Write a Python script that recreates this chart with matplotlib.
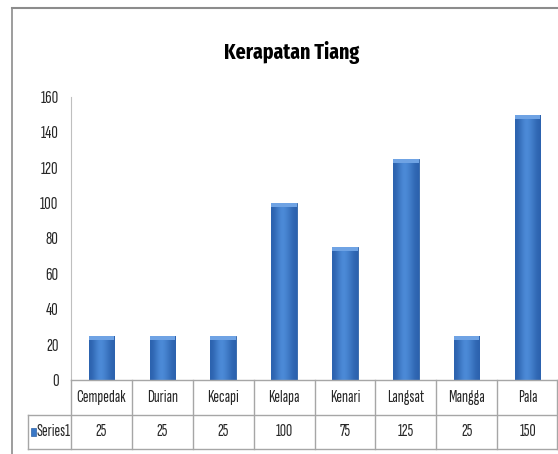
import matplotlib
matplotlib.use("Agg")
import matplotlib.pyplot as plt
import numpy as np
from matplotlib.lines import Line2D
from matplotlib.patches import Rectangle
from matplotlib.colors import LinearSegmentedColormap

categories = ["Cempedak", "Durian", "Kecapi", "Kelapa", "Kenari", "Langsat", "Mangga", "Pala"]
values = [25, 25, 25, 100, 75, 125, 25, 150]
series_name = "Series1"
title = "Kerapatan Tiang"
yticks = [0, 20, 40, 60, 80, 100, 120, 140, 160]

LAB = ["Sofia Sans Extra Condensed", "Fira Sans Extra Condensed", "DejaVu Sans"]
TIT = ["Fira Sans Extra Condensed", "Open Sans Condensed", "DejaVu Sans"]
plt.rcParams['font.family'] = LAB

W, H = 558, 454
fig = plt.figure(figsize=(W/100, H/100), dpi=100)
def fx(px): return px / W
def fy(py): return 1 - py / H

fig.add_artist(Line2D([fx(12), fx(12)], [fy(8), 0], color="#8c8c8c", lw=1.2))
fig.add_artist(Line2D([fx(12), 1], [fy(8), fy(8)], color="#8c8c8c", lw=1.5))

ax_l, ax_r, ax_top, ax_bot = 71, 558, 97, 380
ax = fig.add_axes([fx(ax_l), fy(ax_bot), fx(ax_r) - fx(ax_l), fy(ax_top) - fy(ax_bot)])
n = len(categories)
x = np.arange(n)
bars = ax.bar(x, values, width=0.42, color="#3A78C6", edgecolor="#2F62A6", linewidth=0.6, zorder=2)
grad = np.array([[0.0, 0.35, 0.7, 0.55, 0.25, 0.0]])
cmap = LinearSegmentedColormap.from_list("b", ["#2C62AE", "#4F8EDB"])
for b in bars:
    x0, y0 = b.get_x(), b.get_y()
    w, h = b.get_width(), b.get_height()
    im = ax.imshow(grad, cmap=cmap, aspect="auto", extent=[x0, x0 + w, y0, y0 + h], zorder=2.5, interpolation="bicubic")
    im.set_clip_path(b)
    ax.add_patch(Rectangle((x0, y0 + h - 2.2), w, 2.2, color="#6FA3E4", zorder=3, lw=0))

ax.set_xlim(-0.5, n - 0.5)
ax.set_ylim(0, 160)
ax.set_yticks(yticks)
ax.set_yticklabels([str(t) for t in yticks], fontsize=13, color="#262626")
ax.set_xticks([])
ax.tick_params(axis="y", length=0, pad=9)
for s in ["top", "right", "bottom"]:
    ax.spines[s].set_visible(False)
ax.spines["left"].set_color("#bfbfbf")
ax.set_facecolor("none")

fig.text(fx(292), fy(52), title, ha="center", va="center", fontsize=15.5, fontweight="bold", color="#000000", family=TIT)

lc = "#a6a6a6"
col_w = (ax_r - ax_l) / n
r0, r1, r2 = 380, 415, 449
tbl_l = 28
fig.add_artist(Line2D([fx(ax_l), fx(ax_r)], [fy(r0), fy(r0)], color=lc, lw=1))
fig.add_artist(Line2D([fx(tbl_l), fx(ax_r)], [fy(r1), fy(r1)], color=lc, lw=1))
fig.add_artist(Line2D([fx(tbl_l), fx(ax_r)], [fy(r2), fy(r2)], color=lc, lw=1))
fig.add_artist(Line2D([fx(tbl_l), fx(tbl_l)], [fy(r1), fy(r2)], color=lc, lw=1))
for k in range(n + 1):
    xx = ax_l + k * col_w
    if k == n:
        xx = ax_r - 1
    fig.add_artist(Line2D([fx(xx), fx(xx)], [fy(r0), fy(r2)], color=lc, lw=1))
for k, (c, v) in enumerate(zip(categories, values)):
    cx = ax_l + (k + 0.5) * col_w
    fig.text(fx(cx), fy((r0 + r1) / 2), c, ha="center", va="center", fontsize=12.5, color="#262626")
    fig.text(fx(cx), fy((r1 + r2) / 2), str(v), ha="center", va="center", fontsize=12.5, color="#262626")
fig.add_artist(Rectangle((fx(31), fy(436)), fx(5), fy(428) - fy(436), facecolor="#3A78C6", edgecolor="#2F62A6", lw=0.5, transform=fig.transFigure))
fig.text(fx(37), fy((r1 + r2) / 2), series_name, ha="left", va="center", fontsize=12.5, color="#262626")

fig.savefig("out.png", dpi=100)
